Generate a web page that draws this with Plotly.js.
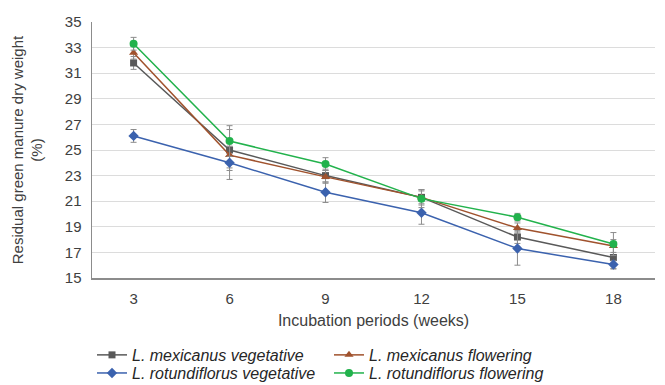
<!DOCTYPE html>
<html><head><meta charset="utf-8">
<script src="https://cdn.plot.ly/plotly-3.0.1.min.js"></script>
<style>body{margin:0;padding:0;background:#fff}#c{width:665px;height:385px}</style>
</head><body><div id="c"></div>
<script>
const weeks = [3, 6, 9, 12, 15, 18];
const mexVeg = [31.8, 25.0, 23.0, 21.3, 18.2, 16.6];
const mexVegErr = [0.5, 1.6, 0.5, 0.6, 0.5, 0.9];
const mexFlo = [32.6, 24.6, 22.9, 21.3, 18.9, 17.5];
const mexFloErr = [0.5, 1.0, 0.5, 0.5, 0.4, 0.5];
const rotVeg = [26.1, 24.0, 21.7, 20.1, 17.3, 16.05];
const rotVegErr = [0.5, 1.3, 0.8, 0.9, 1.3, 0.3];
const rotFlo = [33.3, 25.7, 23.9, 21.2, 19.75, 17.65];
const rotFloErr = [0.5, 1.2, 0.5, 0.7, 0.3, 0.9];
const names = ['<i>L. mexicanus vegetative</i>', '<i>L. mexicanus flowering</i>',
               '<i>L. rotundiflorus vegetative</i>', '<i>L. rotundiflorus flowering</i>'];
const yTicks = [15, 17, 19, 21, 23, 25, 27, 29, 31, 33, 35];

function tr(y, err, name, color, symbol, size, leg) {
  return {x: weeks, y: y, name: name, type: 'scatter', mode: 'lines+markers', legend: leg,
    line: {color: color, width: 1.5},
    marker: {color: color, symbol: symbol, size: size},
    error_y: {type: 'data', array: err, visible: true, color: '#8c8c8c', thickness: 1, width: 3}};
}
const data = [
  tr(mexVeg, mexVegErr, names[0], '#595959', 'square', 7, 'legend'),
  tr(mexFlo, mexFloErr, names[1], '#a0522d', 'triangle-up', 8, 'legend'),
  tr(rotVeg, rotVegErr, names[2], '#3b62ae', 'diamond', 8, 'legend2'),
  tr(rotFlo, rotFloErr, names[3], '#22b24c', 'circle', 8, 'legend2')
];
function leg(y) {
  return {orientation: 'h', x: 0.0, xref: 'plot', y: y, yref: 'container', xanchor: 'left', yanchor: 'middle',
    entrywidth: 192, entrywidthmode: 'pixels', tracegroupgap: 0,
    font: {size: 16, color: '#262626'}, itemwidth: 30, bgcolor: 'rgba(0,0,0,0)'};
}
const layout = {
  width: 665, height: 385,
  margin: {l: 92, r: 10, t: 22, b: 107},
  paper_bgcolor: '#fff', plot_bgcolor: '#fff',
  font: {family: 'Liberation Sans, Arial, sans-serif', size: 15, color: '#404040'},
  xaxis: {range: [1.7, 19.3], tickvals: weeks, ticktext: weeks.map(String),
    showgrid: false, zeroline: false, showline: true, linecolor: '#8c8c8c', linewidth: 1.5,
    ticks: 'outside', ticklen: 6, tickcolor: 'rgba(0,0,0,0)', tickfont: {size: 15, color: '#404040'},
    title: {text: 'Incubation periods (weeks)', font: {size: 16, color: '#404040'}, standoff: 9}},
  yaxis: {range: [15, 35], tickvals: yTicks, showgrid: true, gridcolor: '#dcdcdc', gridwidth: 1,
    zeroline: false, showline: true, linecolor: '#8c8c8c', linewidth: 1.5,
    ticks: 'outside', ticklen: 6, tickcolor: 'rgba(0,0,0,0)',
    tickfont: {size: 15, color: '#404040'},
    title: {text: 'Residual green manure dry weight<br>(%)', font: {size: 15, color: '#404040'}, standoff: 18}},
  showlegend: true,
  legend: leg(0.078),
  legend2: leg(0.031)
};
Plotly.newPlot('c', data, layout, {displayModeBar: false, staticPlot: true});
</script></body></html>
